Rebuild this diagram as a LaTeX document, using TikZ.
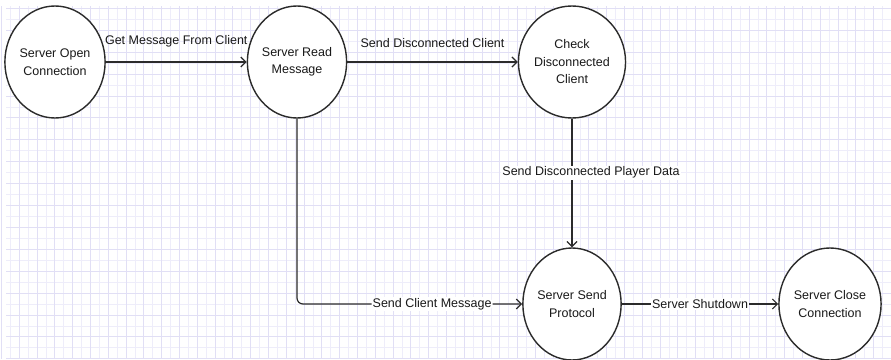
\documentclass[tikz,border=0pt]{standalone}
\usepackage{fontspec}
\setmainfont{Liberation Sans}
\usetikzlibrary{shapes.geometric}
\usetikzlibrary{arrows.meta}

\definecolor{gridmajor}{HTML}{E1DFF5}
\definecolor{gridminor}{HTML}{EEEDFA}
\definecolor{ink}{HTML}{2B2B2B}

\tikzset{
  state/.style={draw=ink,line width=1.4pt,ellipse,fill=white,
    minimum width=90pt,minimum height=112pt,inner sep=0pt,align=center,
    text=black!90,font=\fontsize{12.5}{17.5}\selectfont},
  flow/.style={draw=ink,line width=1.2pt,
    -{Straight Barb[length=5pt,width=10pt,line width=1.2pt]}},
  lbl/.style={font=\fontsize{12.5}{15}\selectfont,text=black!90,inner sep=1pt},
}

\begin{document}
\begin{tikzpicture}[x=1pt,y=-1pt]
      \useasboundingbox (0,0) rectangle (891,359);
      \fill[white] (0,0) rectangle (891,359);
      % background grid
      \foreach \i in {0,...,100} \draw[gridminor,line width=0.9pt] ({1.5+8.9*\i},6) -- ({1.5+8.9*\i},359);
      \foreach \j in {0,...,32} \draw[gridminor,line width=0.9pt] (6,{8.4+10.95*\j}) -- (891,{8.4+10.95*\j});
      \foreach \i in {0,...,50} \draw[gridmajor,line width=1pt] ({1.5+17.8*\i},6) -- ({1.5+17.8*\i},359);
      \foreach \j in {0,...,16} \draw[gridmajor,line width=1pt] (6,{8.4+21.9*\j}) -- (891,{8.4+21.9*\j});

      % states
      \node[state] (open) at (55,62) {Server Open\\Connection};
      \node[state] (read) at (297,62) {Server Read\\Message};
      \node[state] (check) at (572,62) {Check\\Disconnected\\Client};
      \node[state] (sendp) at (572,304) {Server Send\\Protocol};
      \node[state] (closec) at (830,304) {Server Close\\Connection};

      % transitions
      \draw[flow] (open) -- (read) node[lbl,midway,above=13pt] (getmsg) {Get Message From Client};
      \draw[flow] (read) -- (check) node[lbl,midway,above=13pt] (senddc) {Send Disconnected Client};
      \draw[flow] (check) -- (sendp) node[lbl,pos=0.42,fill=white,xshift=19pt] (sendpd) {Send Disconnected Player Data};
      \draw[flow,rounded corners=6pt] (read.south) |- (sendp.west) node[lbl,pos=0.8,fill=white] (sendcm) {Send Client Message};
      \draw[flow] (sendp) -- (closec) node[lbl,midway,fill=white] (shutdown) {Server Shutdown};
\end{tikzpicture}
\end{document}
